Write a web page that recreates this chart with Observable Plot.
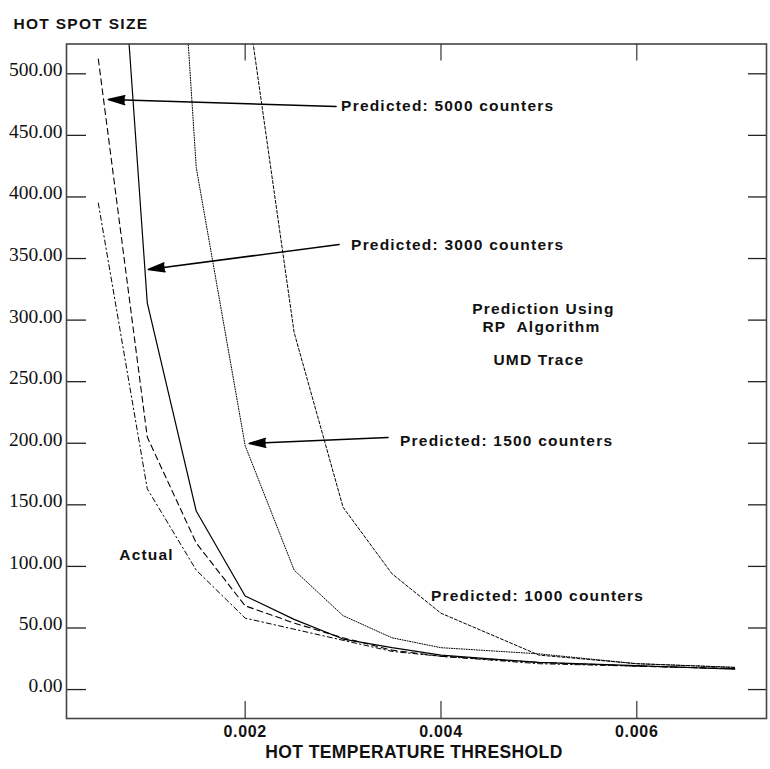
<!DOCTYPE html>
<html>
<head>
<meta charset="utf-8">
<script src="https://cdn.jsdelivr.net/npm/d3@7"></script>
<script src="https://cdn.jsdelivr.net/npm/@observablehq/plot@0.6"></script>
<style>
  html, body { margin: 0; padding: 0; background: #fff; }
  svg text { white-space: pre; }
</style>
</head>
<body>
<script>
// ---- data ----
const thresholds = [0.0005, 0.001, 0.0015, 0.002, 0.0025, 0.003, 0.0035, 0.004, 0.005, 0.006, 0.007];
const actual   = [395, 163, 97, 58, 49, 40, 31, 27, 21, 19, 17];
const pred5000 = [512, 205, 119, 68, 54, 42, 32, 27, 22, 19, 17];
const pred3000 = [880, 314, 145, 76, 57, 41, 34, 28, 22, 19.5, 16.5];
const pred1500 = [null, 1040, 424, 198, 97, 60, 42, 34, 29, 21, 18];
const pred1000 = [null, null, null, 570, 290, 148, 94, 62, 28, 21, 18];

const yTicks = [0, 50, 100, 150, 200, 250, 300, 350, 400, 450, 500];
const xTicks = [0.002, 0.004, 0.006];
const xTickLabels = ["0.002", "0.004", "0.006"];

const xTitle = "HOT TEMPERATURE THRESHOLD";
const yTitle = "HOT SPOT SIZE";

// annotation labels (anchored in data units)
const annText = ["Predicted: 5000 counters", "Predicted: 3000 counters", "Predicted: 1500 counters", "Predicted: 1000 counters", "Actual"];
const annX = [0.00298, 0.003082, 0.003582, 0.003898, 0.000714];
const annY = [474, 360.6, 202, 76.3, 109.6];

const noteText = ["Prediction Using", "RP  Algorithm", "UMD Trace"];
const noteX = [0.005046, 0.005026, 0.0050];
const noteY = [308.8, 294.6, 267.2];

// arrows from label to curve (data units)
const arrowX1 = [0.002929, 0.00296, 0.003459];
const arrowY1 = [473.4, 361.4, 204.6];
const arrowX2 = [0.000602, 0.00101, 0.002041];
const arrowY2 = [479.1, 341.1, 199.8];

// ---- build tables ----
const series = (vals) => thresholds.map((x, i) => ({x, y: vals[i]}));
const ann = annText.map((t, i) => ({t, x: annX[i], y: annY[i]}));
const notes = noteText.map((t, i) => ({t, x: noteX[i], y: noteY[i]}));
const arrows = arrowX1.map((_, i) => ({x1: arrowX1[i], y1: arrowY1[i], x2: arrowX2[i], y2: arrowY2[i]}));
const xt = xTicks.map((x, i) => ({x, label: xTickLabels[i]}));

const W = 770, H = 769;
const mL = 66, mR = 4, mT = 43.5, mB = 51;
const frameW = W - mL - mR, frameH = H - mT - mB;

const bold = "Liberation Sans, Arial, Helvetica, sans-serif";
const lineOpts = {x: "x", y: "y", stroke: "black", clip: true, curve: "linear"};

const chart = Plot.plot({
  width: W,
  height: H,
  marginLeft: mL, marginRight: mR, marginTop: mT, marginBottom: mB,
  x: {domain: [0.000175, 0.007325], axis: null},
  y: {domain: [-23.5, 524.2], axis: null},
  marks: [
    // curves
    Plot.line(series(actual),   {...lineOpts, strokeWidth: 1, strokeDasharray: "5,3,1.5,3"}),
    Plot.line(series(pred5000), {...lineOpts, strokeWidth: 1.1, strokeDasharray: "6,4"}),
    Plot.line(series(pred3000), {...lineOpts, strokeWidth: 1.2}),
    Plot.line(series(pred1500), {...lineOpts, strokeWidth: 1, strokeDasharray: "1,1.5"}),
    Plot.line(series(pred1000), {...lineOpts, strokeWidth: 1, strokeDasharray: "3,2"}),
    // ticks (inward)
    Plot.ruleY(yTicks, {y: d => d, insetRight: frameW - 20, stroke: "#222", strokeWidth: 1.3}),
    Plot.ruleY(yTicks, {y: d => d, insetLeft: frameW - 18, stroke: "#222", strokeWidth: 1.3}),
    Plot.ruleX(xTicks, {x: d => d, insetTop: frameH - 17, stroke: "#444", strokeWidth: 1.3}),
    Plot.ruleX(xTicks, {x: d => d, insetBottom: frameH - 17, stroke: "#444", strokeWidth: 1.3}),
    Plot.frame({stroke: "#444", strokeWidth: 1.6}),
    // y tick labels
    Plot.text(yTicks, {
      y: d => d, text: d => d3.format(".2f")(d), frameAnchor: "left", textAnchor: "end",
      dx: -4, dy: -3.8, fontFamily: "Liberation Serif, Times New Roman, serif", fontSize: 19.5, fill: "#111"
    }),
    // x tick labels
    Plot.text(xt, {
      x: "x", text: "label", frameAnchor: "bottom", lineAnchor: "top", dy: 7.6,
      fontFamily: bold, fontWeight: "bold", fontSize: 16, fill: "#111"
    }),
    // axis titles
    Plot.text([xTitle], {
      text: d => d, frameAnchor: "bottom", dx: -2.5, dy: 39.5,
      fontFamily: bold, fontWeight: "bold", fontSize: 17.5, fill: "#111"
    }),
    Plot.text([yTitle], {
      text: d => d, frameAnchor: "top-left", textAnchor: "start", dx: 13 - mL, dy: -25.8,
      fontFamily: bold, fontWeight: "bold", fontSize: 15.5, fill: "#111"
    }),
    // arrows
    Plot.arrow(arrows, {
      x1: "x1", y1: "y1", x2: "x2", y2: "y2", headLength: 17, headAngle: 30,
      stroke: "black", fill: "black", strokeWidth: 1.5
    }),
    // annotations
    Plot.text(ann, {
      x: "x", y: "y", text: "t", textAnchor: "start",
      fontFamily: bold, fontWeight: "bold", fontSize: 15.5, fill: "#111"
    }),
    Plot.text(notes, {
      x: "x", y: "y", text: "t", textAnchor: "middle",
      fontFamily: bold, fontWeight: "bold", fontSize: 15.5, fill: "#111"
    })
  ]
});

document.body.appendChild(chart);

// the reference's bold Helvetica is set wider than Arial: add tracking
const tracking = new Map([
  ...annText.map(t => [t, 1.2]),
  ...noteText.map(t => [t, 1.2]),
  [yTitle, 1.3],
  [xTitle, 0.4],
  ...xTickLabels.map(t => [t, 0.7])
]);
d3.select(chart).selectAll("text").each(function() {
  const s = tracking.get(this.textContent);
  if (s == null) return;
  const natural = this.getComputedTextLength();
  this.setAttribute("letter-spacing", s + "px");
  this.style.letterSpacing = s + "px";
  const after = this.getComputedTextLength();
  if (after < natural + 0.5 * s * this.textContent.length) {
    this.setAttribute("textLength", (natural + s * (this.textContent.length - 1)).toFixed(1));
    this.setAttribute("lengthAdjust", "spacing");
  }
});
</script>
</body>
</html>
